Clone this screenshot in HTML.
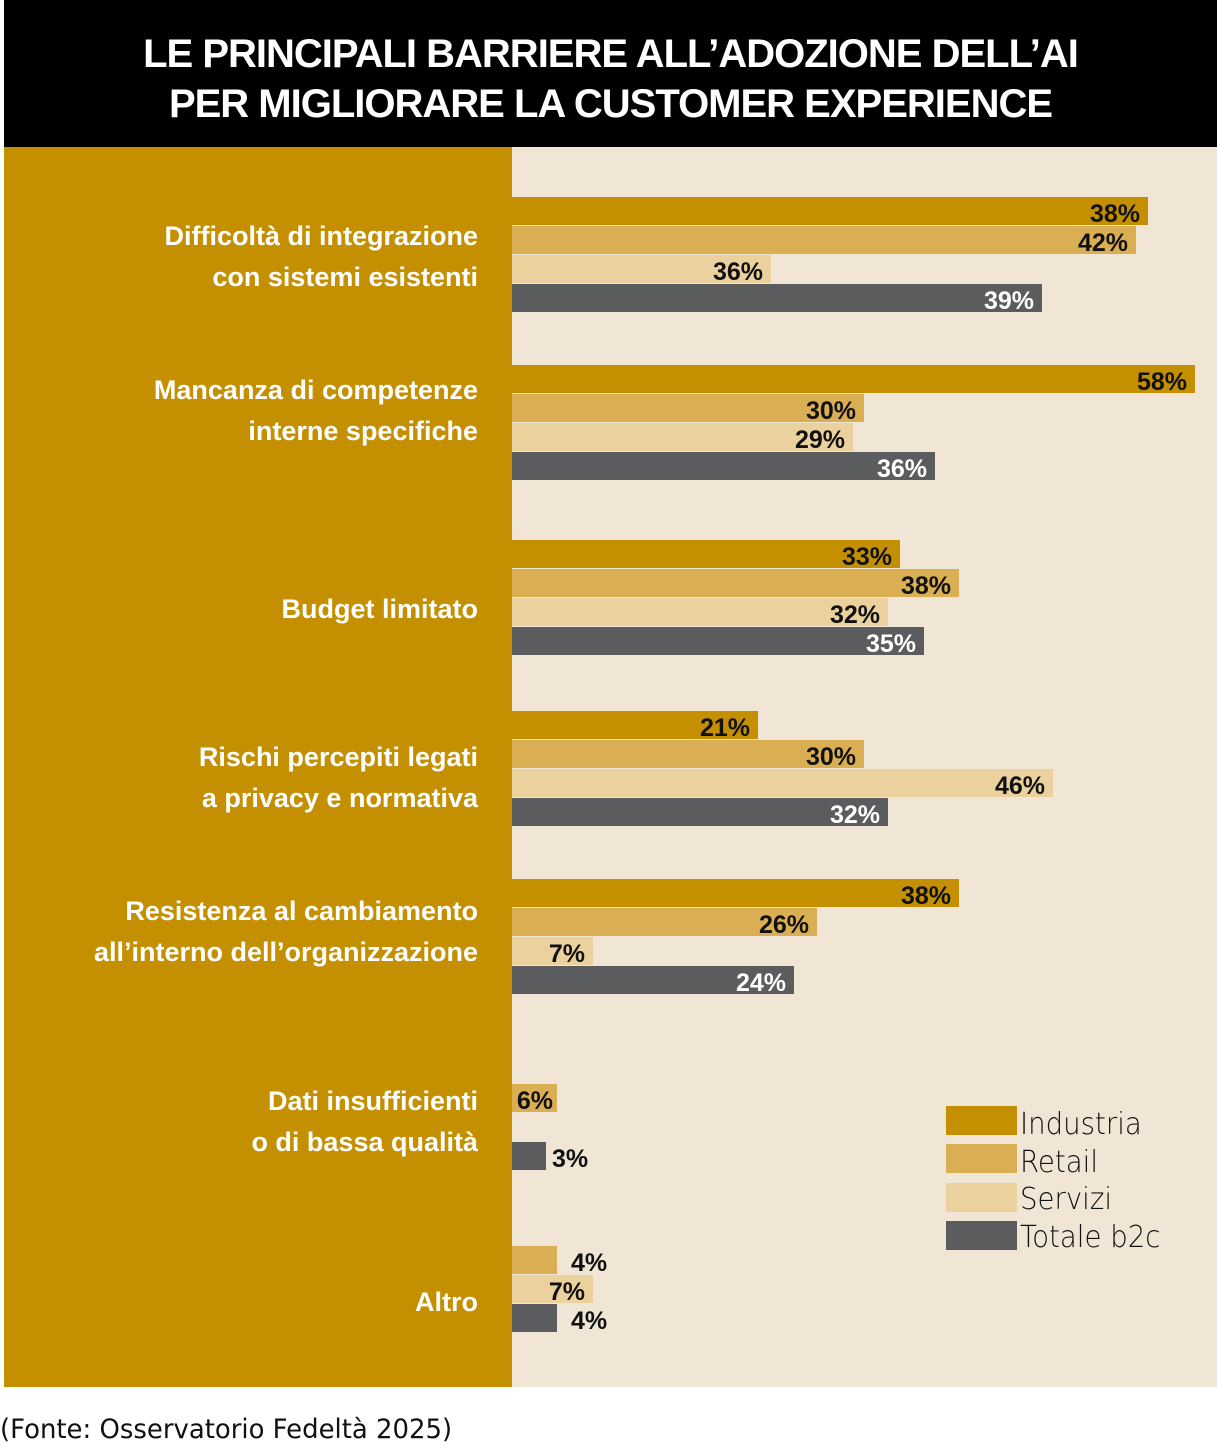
<!DOCTYPE html>
<html><head><meta charset="utf-8"><style>
body{margin:0;width:1217px;height:1455px;background:#fff;position:relative;overflow:hidden;font-family:"Liberation Sans Narrow","Liberation Sans",sans-serif}
.a{position:absolute}
.hd{left:4px;top:0;width:1213px;height:147px;background:#000;color:#fff;font-weight:bold;font-size:40px;text-align:center;line-height:50px;padding-top:29px;box-sizing:border-box;letter-spacing:-1px}
.lp{left:4px;top:147px;width:508px;height:1240px;background:#C48F00}
.rp{left:512px;top:147px;width:705px;height:1240px;background:#F1E6D6}
.lb{right:739px;color:#fff;font-weight:bold;font-size:27px;line-height:41px;text-align:right;white-space:nowrap}
.b{left:512px;height:28px}
.I{background:#C48F00}.R{background:#DAAE52}.S{background:#EBD19D}.T{background:#5A5C5E}
.v{position:absolute;right:8px;top:2px;line-height:30px;font-weight:bold;font-size:25px;color:#111}
.T .v{color:#fff}
.o{position:absolute;left:100%;margin-left:6px;right:auto;color:#111!important}
.lg{left:946px;width:71px;height:29px}
.lt{left:1020px;font-size:30px;color:#111;font-family:"DejaVu Sans","Liberation Sans",sans-serif;font-weight:300;line-height:30px;transform:scaleX(0.92);transform-origin:left}
</style></head><body>
<div class="a hd">LE PRINCIPALI BARRIERE ALL’ADOZIONE DELL’AI<br>PER MIGLIORARE LA CUSTOMER EXPERIENCE</div>
<div class="a lp"></div><div class="a rp"></div>

<div class="a lb" style="top:216px">Difficoltà di integrazione<br>con sistemi esistenti</div>
<div class="a lb" style="top:370px">Mancanza di competenze<br>interne specifiche</div>
<div class="a lb" style="top:589px">Budget limitato</div>
<div class="a lb" style="top:737px">Rischi percepiti legati<br>a privacy e normativa</div>
<div class="a lb" style="top:891px">Resistenza al cambiamento<br>all’interno dell’organizzazione</div>
<div class="a lb" style="top:1081px">Dati insufficienti<br>o di bassa qualità</div>
<div class="a lb" style="top:1282px">Altro</div>

<div class="a b I" style="top:197px;width:636px"><span class="v">38%</span></div>
<div class="a b R" style="top:226px;width:624px"><span class="v">42%</span></div>
<div class="a b S" style="top:255px;width:259px"><span class="v">36%</span></div>
<div class="a b T" style="top:284px;width:530px"><span class="v">39%</span></div>

<div class="a b I" style="top:365px;width:683px"><span class="v">58%</span></div>
<div class="a b R" style="top:394px;width:352px"><span class="v">30%</span></div>
<div class="a b S" style="top:423px;width:341px"><span class="v">29%</span></div>
<div class="a b T" style="top:452px;width:423px"><span class="v">36%</span></div>

<div class="a b I" style="top:540px;width:388px"><span class="v">33%</span></div>
<div class="a b R" style="top:569px;width:447px"><span class="v">38%</span></div>
<div class="a b S" style="top:598px;width:376px"><span class="v">32%</span></div>
<div class="a b T" style="top:627px;width:412px"><span class="v">35%</span></div>

<div class="a b I" style="top:711px;width:246px"><span class="v">21%</span></div>
<div class="a b R" style="top:740px;width:352px"><span class="v">30%</span></div>
<div class="a b S" style="top:769px;width:541px"><span class="v">46%</span></div>
<div class="a b T" style="top:798px;width:376px"><span class="v">32%</span></div>

<div class="a b I" style="top:879px;width:447px"><span class="v">38%</span></div>
<div class="a b R" style="top:908px;width:305px"><span class="v">26%</span></div>
<div class="a b S" style="top:937px;width:81px"><span class="v">7%</span></div>
<div class="a b T" style="top:966px;width:282px"><span class="v">24%</span></div>

<div class="a b R" style="top:1084px;width:45px"><span class="v" style="right:4px">6%</span></div>
<div class="a b T" style="top:1142px;width:34px"><span class="v o">3%</span></div>

<div class="a b R" style="top:1246px;width:45px"><span class="v o" style="margin-left:14px">4%</span></div>
<div class="a b S" style="top:1275px;width:81px"><span class="v">7%</span></div>
<div class="a b T" style="top:1304px;width:45px"><span class="v o" style="margin-left:14px">4%</span></div>

<div class="a lg I" style="top:1106px"></div><div class="a lt" style="top:1110px">Industria</div>
<div class="a lg R" style="top:1144px"></div><div class="a lt" style="top:1148px">Retail</div>
<div class="a lg S" style="top:1183px"></div><div class="a lt" style="top:1185px">Servizi</div>
<div class="a lg T" style="top:1221px"></div><div class="a lt" style="top:1223px">Totale b2c</div>

<div class="a" style="left:0;top:1414px;font-size:27px;color:#111;font-family:'DejaVu Sans','Liberation Sans',sans-serif;transform:scaleX(0.96);transform-origin:left;white-space:nowrap">(Fonte: Osservatorio Fedeltà 2025)</div>
</body></html>
